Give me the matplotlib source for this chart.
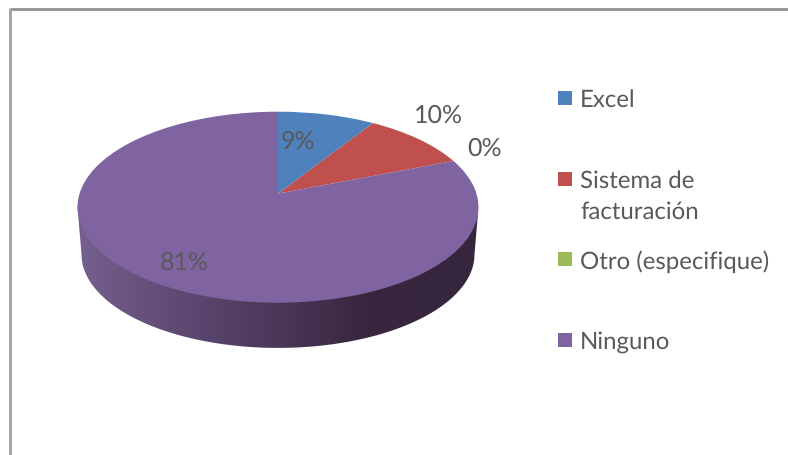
import numpy as np
import matplotlib
matplotlib.use('Agg')
import matplotlib.pyplot as plt
from matplotlib.colors import LinearSegmentedColormap
from matplotlib.patches import Polygon, Rectangle
from matplotlib.transforms import Transform

plt.rcParams['font.family'] = ['Lato', 'DejaVu Sans']
plt.rcParams['text.hinting'] = 'no_hinting'
plt.rcParams['text.hinting_factor'] = 1

categories = ['Excel', 'Sistema de\nfacturación', 'Otro (especifique)', 'Ninguno']
values = [9, 10, 0, 81]
colors = ['#4F81BD', '#C0504D', '#9BBB59', '#8064A2']

text_color = '#595959'
label_xy = [(298, 142), (438, 116), (485, 149), (184, 263)]

# the pie is tilted in perspective, so the apex sits above the ellipse centre
cx, cy = 278, 194.7
sx, sy, persp = 198.5, 93.6, 0.1414


class Tilt(Transform):
    input_dims = 2
    output_dims = 2

    def transform_non_affine(self, xy):
        xy = np.asarray(xy)
        w = 1 + persp * xy[:, 1]
        return np.column_stack([cx + sx * xy[:, 0] / w, cy - sy * xy[:, 1] / w])


fig = plt.figure(figsize=(7.88, 4.56), dpi=100)
ax = fig.add_axes([0, 0, 1, 1])

wedges, _ = ax.pie(values, colors=colors, startangle=90, counterclock=False,
                   wedgeprops={'linewidth': 0})
for w in wedges:
    w.set_transform(Tilt() + ax.transData)
    w.set_zorder(3)
    w.set_clip_on(False)

# side of the disc: horizontal gradient clipped to the rim
t = np.linspace(0, 2 * np.pi, 721)
rim = Tilt().transform_non_affine(np.column_stack([np.cos(t), np.sin(t)]))
low = rim.copy()
low[:, 0] = 278 + (rim[:, 0] - 278) * 0.98
low[:, 1] = 255.3 + (rim[:, 1] - 208.2) * 0.98
i_left, i_right = rim[:, 0].argmin(), rim[:, 0].argmax()
side = np.vstack([rim[i_left], low[i_left:i_right + 1], rim[i_right]])

side_cmap = LinearSegmentedColormap.from_list('side', [
    (0.0, '#75608F'), (0.25, '#5F4A74'), (0.5, '#4B3759'),
    (0.72, '#38273F'), (1.0, '#35263D')])
img = ax.imshow(np.linspace(0, 1, 256)[None, :], cmap=side_cmap, aspect='auto',
                extent=(77, 478, 350, 200), zorder=2)
clip = Polygon(side, closed=True, transform=ax.transData, facecolor='none', edgecolor='none')
ax.add_patch(clip)
img.set_clip_path(clip)

for v, (x, y) in zip(values, label_xy):
    ax.text(x, y, f'{v}%', color=text_color, fontsize=18, ha='center', va='center', zorder=5)

# legend
for name, c, y in zip(categories, colors, [99, 180, 260, 341]):
    ax.add_patch(Rectangle((558, y - 7), 14, 14, facecolor=c, edgecolor='none'))
    ax.text(580, y - 10, name, color=text_color, fontsize=17.5, ha='left', va='top',
            linespacing=1.52)

# chart border, only top and left are inside the crop
ax.plot([10.5, 788], [9.5, 9.5], color='#929292', lw=2, solid_capstyle='butt')
ax.plot([10.5, 10.5], [9, 456], color='#A0A0A0', lw=2, solid_capstyle='butt')

ax.set_aspect('auto')
ax.set_xlim(0, 788)
ax.set_ylim(456, 0)
ax.axis('off')

fig.savefig('out.png', dpi=100)
